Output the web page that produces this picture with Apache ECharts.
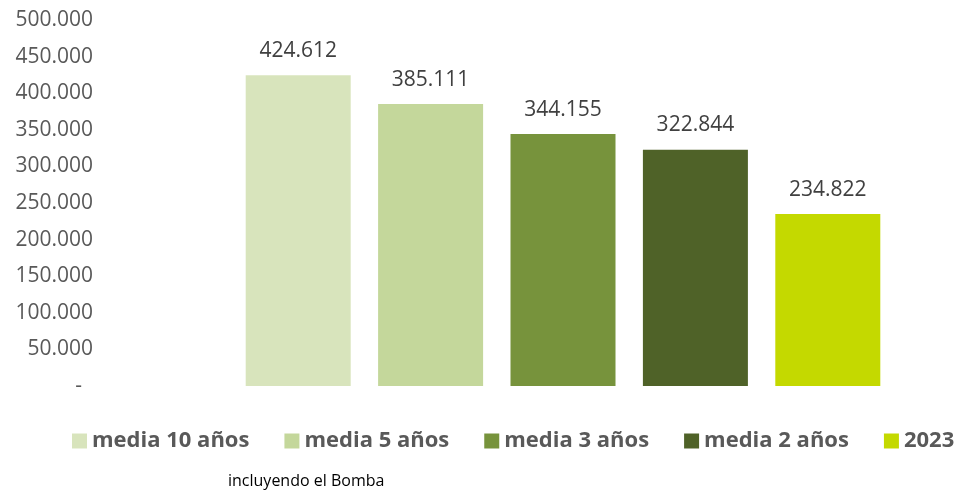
<!DOCTYPE html>
<html>
<head>
<meta charset="utf-8">
<script src="https://cdn.jsdelivr.net/npm/echarts@6/dist/echarts.min.js"></script>
<style>html,body{margin:0;padding:0;background:#fff;}#c{width:955px;height:491px;}</style>
</head>
<body>
<div id="c"></div>
<script>
var seriesNames = ['media 10 años', 'media 5 años', 'media 3 años', 'media 2 años', '2023'];
var seriesValues = [424612, 385111, 344155, 322844, 234822];
var seriesColors = ['#d8e4bc', '#c4d79b', '#77933c', '#4f6228', '#c4d900'];
var yTicks = [0, 50000, 100000, 150000, 200000, 250000, 300000, 350000, 400000, 450000, 500000];
var footNote = 'incluyendo el Bomba';

function fmt(v) {
  if (v === 0) return '-  ';
  return String(v).replace(/\B(?=(\d{3})+(?!\d))/g, '.');
}

var chart = echarts.init(document.getElementById('c'), null, {renderer: 'canvas'});
var series = seriesNames.map(function (name, i) {
  var data = seriesNames.map(function (_, j) { return j === i ? seriesValues[i] : null; });
  return {
    name: name,
    type: 'bar',
    stack: 'all',
    barWidth: 105,
    data: data,
    itemStyle: {color: seriesColors[i]},
    label: {
      show: true,
      position: 'top',
      distance: 14,
      formatter: function (p) { return fmt(p.value); },
      color: '#404040',
      fontFamily: 'Open Sans',
      fontSize: 21
    }
  };
});

chart.setOption({
  animation: false,
  grid: {left: 232, right: 61, top: 20, bottom: 105},
  xAxis: {
    type: 'category',
    data: seriesNames,
    show: false
  },
  yAxis: {
    type: 'value',
    min: yTicks[0],
    max: yTicks[yTicks.length - 1],
    interval: yTicks[1] - yTicks[0],
    axisLine: {show: false},
    axisTick: {show: false},
    splitLine: {show: false},
    axisLabel: {
      margin: 139,
      color: '#595959',
      fontFamily: 'Open Sans',
      fontSize: 21,
      formatter: fmt
    }
  },
  legend: {
    left: 72,
    top: 430,
    width: 900,
    padding: 0,
    itemWidth: 15,
    itemHeight: 15,
    itemGap: 35,
    icon: 'rect',
    textStyle: {color: '#595959', fontFamily: 'Open Sans', fontWeight: 'bold', fontSize: 22}
  },
  graphic: [{
    type: 'text',
    left: 228,
    top: 473,
    style: {text: footNote, fill: '#000', font: '16px "Open Sans"'}
  }],
  series: series
});
</script>
</body>
</html>
